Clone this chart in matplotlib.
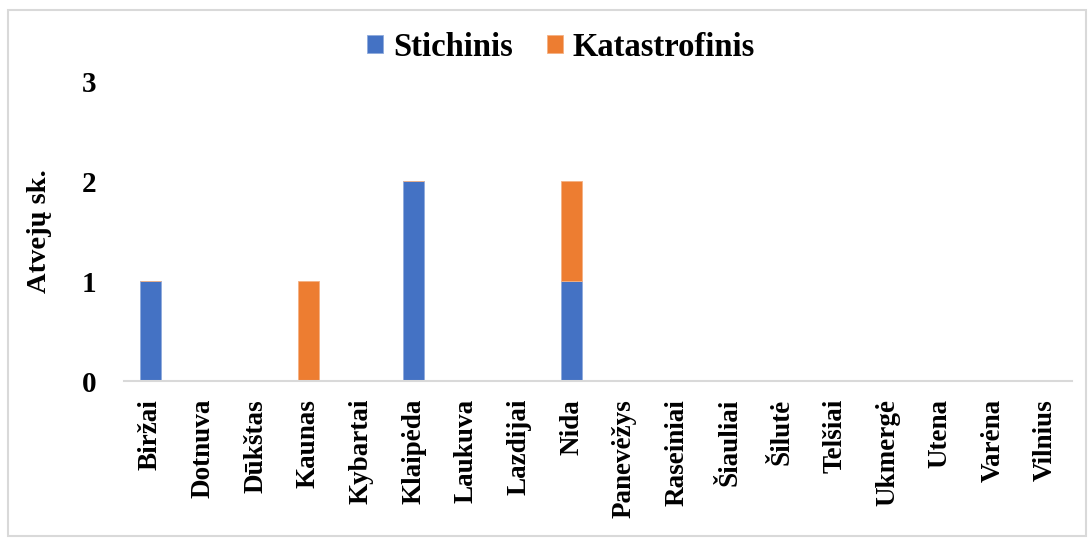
import matplotlib.pyplot as plt
import numpy as np
from matplotlib.patches import Rectangle

# data
miestai = ['Biržai', 'Dotnuva', 'Dūkštas', 'Kaunas', 'Kybartai', 'Klaipėda',
           'Laukuva', 'Lazdijai', 'Nida', 'Panevėžys', 'Raseiniai', 'Šiauliai',
           'Šilutė', 'Telšiai', 'Ukmergė', 'Utena', 'Varėna', 'Vilnius']
stichinis = [1, 0, 0, 0, 0, 2, 0, 0, 1, 0, 0, 0, 0, 0, 0, 0, 0, 0]
katastrofinis = [0, 0, 0, 1, 0, 0, 0, 0, 1, 0, 0, 0, 0, 0, 0, 0, 0, 0]
y_ticks = [0, 1, 2, 3]

plt.rcParams['font.family'] = ['Liberation Serif', 'DejaVu Serif']
plt.rcParams['font.weight'] = 'bold'

fig = plt.figure(figsize=(10.9, 5.38), dpi=100)
ax = fig.add_axes([0.1137, 0.2918, 0.8697, 0.5576])

x = np.arange(len(miestai))
b1 = ax.bar(x, stichinis, width=0.4, color='#4472C4', edgecolor='#8FAADC',
            linewidth=0.6, label='Stichinis')
b2 = ax.bar(x, katastrofinis, width=0.4, bottom=stichinis, color='#ED7D31',
            edgecolor='#F4B183', linewidth=0.6, label='Katastrofinis')

ax.set_xlim(-0.5, len(miestai) - 0.5)
ax.set_ylim(0, 3)
ax.set_yticks(y_ticks)
ax.set_yticklabels([str(t) for t in y_ticks], fontsize=21, fontweight='bold')
ax.set_xticks(x)
ax.set_xticklabels(miestai, rotation=90, fontsize=19.5, fontweight='bold',
                   va='top')
ax.tick_params(axis='y', length=0, pad=20)
ax.tick_params(axis='x', length=0, pad=13)

for s in ['top', 'right', 'left']:
    ax.spines[s].set_visible(False)
ax.spines['bottom'].set_color('#D9D9D9')
ax.spines['bottom'].set_linewidth(1.5)

fig.text(40 / 1090, 1 - 231 / 538, 'Atvejų sk.', rotation=90, ha='center',
         va='center', fontsize=20.5, fontweight='bold')

fig.legend(handles=[b1, b2], loc='center', bbox_to_anchor=(561 / 1090, 1 - 47 / 538),
           ncol=2, frameon=False, handlelength=0.5, handleheight=0.45,
           handletextpad=0.3, columnspacing=1.05,
           prop={'weight': 'bold', 'size': 23.5})

# outer chart frame
fig.patches.append(Rectangle((8 / 1090, 0.004), 1 - 12 / 1090, 1 - 10 / 538 - 0.004,
                             transform=fig.transFigure, fill=False,
                             edgecolor='#D9D9D9', linewidth=1.5))

fig.savefig('out.png', dpi=100)
